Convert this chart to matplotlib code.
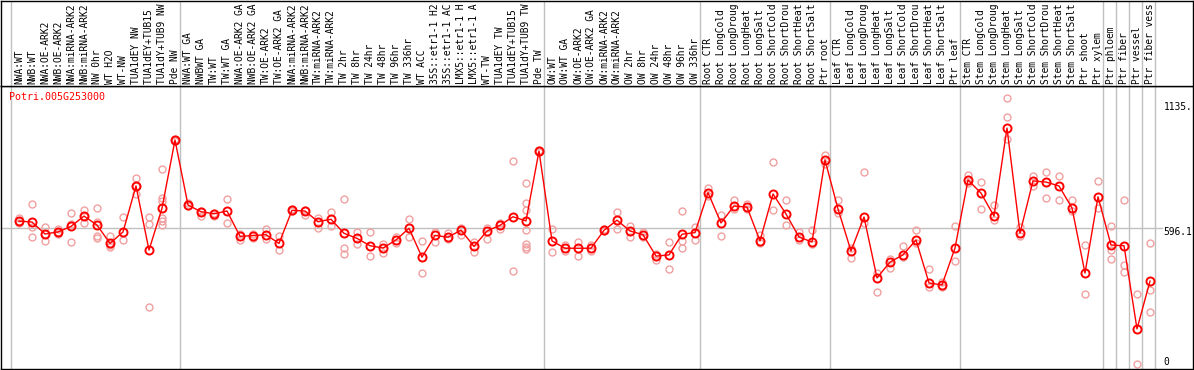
import matplotlib
matplotlib.use("Agg")
import matplotlib.pyplot as plt
from matplotlib.transforms import blended_transform_factory

# ---------------- data ----------------
labels = [
    "NWA:WT", "NWB:WT", "NWA:OE-ARK2", "NWB:OE-ARK2", "NWA:miRNA-ARK2", "NWB:miRNA-ARK2",
    "NW 0hr", "WT H2O", "WT-NW", "TUA1dEY NW", "TUA1dEY+TUB15 NW", "TUA1dY+TUB9 NW", "Pde NW",
    "NWA:WT GA", "NWBWT GA", "TW:WT", "TW:WT GA", "NWA:OE-ARK2 GA", "NWB:OE-ARK2 GA",
    "TW:OE-ARK2", "TW:OE-ARK2 GA", "NWA:miRNA-ARK2", "NWB:miRNA-ARK2", "TW:miRNA-ARK2",
    "TW:miRNA-ARK2", "TW 2hr", "TW 8hr", "TW 24hr", "TW 48hr", "TW 96hr", "TW 336hr", "WT ACC",
    "35S::etr1-1 H2O", "35S::etr1-1 ACC", "LMX5::etr1-1 H2O", "LMX5::etr1-1 ACC", "WT-TW",
    "TUA1dEY TW", "TUA1dEY+TUB15 TW", "TUA1dY+TUB9 TW", "Pde TW",
    "OW:WT", "OW:WT GA", "OW:OE-ARK2", "OW:OE-ARK2 GA", "OW:miRNA-ARK2", "OW:miRNA-ARK2",
    "OW 2hr", "OW 8hr", "OW 24hr", "OW 48hr", "OW 96hr", "OW 336hr",
    "Root CTR", "Root LongCold", "Root LongDrought", "Root LongHeat", "Root LongSalt",
    "Root ShortCold", "Root ShortDrought", "Root ShortHeat", "Root ShortSalt", "Ptr root",
    "Leaf CTR", "Leaf LongCold", "Leaf LongDrought", "Leaf LongHeat", "Leaf LongSalt",
    "Leaf ShortCold", "Leaf ShortDrought", "Leaf ShortHeat", "Leaf ShortSalt", "Ptr leaf",
    "Stem CTR", "Stem LongCold", "Stem LongDrought", "Stem LongHeat", "Stem LongSalt",
    "Stem ShortCold", "Stem ShortDrought", "Stem ShortHeat", "Stem ShortSalt", "Ptr shoot",
    "Ptr xylem", "Ptr phloem", "Ptr fiber", "Ptr vessel", "Ptr fiber vessel",
]

means = [
    626, 622, 570, 579, 603, 648, 609, 529, 579, 779, 500, 682, 979,
    696, 667, 658, 670, 560, 563, 567, 529, 673, 670, 624, 634, 573, 551, 519, 509, 544,
    595, 469, 564, 556, 587, 516, 583, 608, 645, 627, 931,
    540, 508, 508, 508, 586, 630, 583, 567, 474, 479, 569, 576,
    750, 618, 692, 687, 540, 744, 657, 557, 535, 892,
    679, 496, 644, 379, 448, 479, 544, 357, 348, 509,
    805, 748, 648, 1031, 574, 801, 796, 779, 683, 400, 732, 522, 519, 157, 365,
]

replicates = [
    [641, 626, 618], [700, 602, 556], [600, 570, 538], [592, 579, 570], [660, 613, 534],
    [674, 648, 616], [682, 621, 560, 554], [563, 520, 512], [643, 544], [814, 779, 743],
    [643, 612, 251], [851, 728, 712, 638, 625, 609], [985, 975],
    [705, 690], [672, 648], [662, 647], [722, 618], [570, 544], [570, 553], [592, 550],
    [561, 502], [677, 668], [676, 653], [641, 595], [667, 603], [722, 508, 484], [580, 528],
    [580, 473], [525, 486], [557, 530], [634, 556], [538, 399], [580, 537], [573, 547],
    [598, 565], [535, 493], [596, 550], [620, 592], [886, 409],
    [790, 705, 676, 586, 525, 515, 503], [935, 925],
    [590, 490], [522, 496], [537, 476], [522, 496], [590, 582], [666, 590], [603, 556],
    [580, 556], [483, 455], [534, 418], [670, 538, 508], [601, 544],
    [770, 735], [653, 562], [718, 680], [700, 680], [566, 530], [883, 674], [718, 609],
    [579, 545], [587, 525], [914, 875],
    [718, 660], [466, 510], [840, 620], [318, 400], [422, 460], [518, 470], [588, 530],
    [418, 340], [360, 340], [605, 453],
    [827, 790], [796, 679], [696, 630], [1162, 1079, 983], [600, 560], [822, 780],
    [840, 727], [822, 718], [718, 670], [522, 309], [800, 682], [605, 500, 460],
    [718, 435, 405], [307, 3], [529, 325, 231],
]

group_ends = [-1, 12, 40, 52, 62, 72, 83, 84, 85, 86, 87]
gene = "Potri.005G253000"
ref_value = 596.1
top_value = 1135.0
MAX_CHARS = 14   # the header band only has room for this many characters

# ---------------- layout (pixel-based) ----------------
W, H = 1194, 370
fig = plt.figure(figsize=(W / 100, H / 100), dpi=100)
FONT = "DejaVu Sans Mono"

x0_px, dx_px = 19.0, 13.0          # pixel position of column 0 and spacing
y0_px, upp = 365.0, 4.351          # pixel row of value 0, value units per pixel
plot_top_px, plot_bot_px = 86.0, 369.0
left_px, right_px = 1.0, 1193.0


def px2x(px):
    return (px - x0_px) / dx_px


ax = fig.add_axes([left_px / W, (H - plot_bot_px) / H,
                   (right_px - left_px) / W, (plot_bot_px - plot_top_px) / H])
ax.set_xlim(px2x(left_px), px2x(right_px))
ax.set_ylim((y0_px - plot_bot_px) * upp, (y0_px - plot_top_px) * upp)
ax.set_xticks([])
ax.set_yticks([])
for s in ax.spines.values():
    s.set_color("black")
    s.set_linewidth(1.0)

lab = fig.add_axes([left_px / W, (H - plot_top_px) / H,
                    (right_px - left_px) / W, (plot_top_px - 0.5) / H])
lab.set_xlim(ax.get_xlim())
lab.set_ylim(0, 1)
lab.set_xticks([])
lab.set_yticks([])
for s in lab.spines.values():
    s.set_color("black")
    s.set_linewidth(1.0)

# vertical group separators
for g in group_ends:
    for a in (ax, lab):
        a.axvline(g + 0.41, color="#c0c0c0", lw=1.0, zorder=0)

# horizontal reference line
ax.plot([ax.get_xlim()[0], px2x(1162)], [ref_value, ref_value],
        color="#c0c0c0", lw=1.0, zorder=0, clip_on=False)

xs = list(range(len(labels)))

# replicate points
for i, reps in enumerate(replicates):
    ax.plot([i] * len(reps), reps, linestyle="none", marker="o", markersize=5.0,
            markerfacecolor="none", markeredgecolor="#f0a0a0", markeredgewidth=1.0, zorder=2)

# mean line and points
ax.plot(xs, means, color="#ff0000", lw=1.0, zorder=3)
ax.plot(xs, means, linestyle="none", marker="o", markersize=5.8,
        markerfacecolor="none", markeredgecolor="#ff0000", markeredgewidth=1.4, zorder=4)

# sample labels (rotated, anchored just above the separator line)
trans = blended_transform_factory(lab.transData, fig.transFigure)
for i, t in enumerate(labels):
    fig.text(i, (H - 84.5) / H, t[:MAX_CHARS], transform=trans, rotation=90, ha="center",
             va="bottom", fontsize=6.9, family=FONT, color="black")

# gene name
fig.text(9.5 / W, (H - 97) / H, gene, color="#ff0000", fontsize=7.2, family=FONT,
         ha="left", va="center")

# right-hand value labels
for txt, ypx in ((f"{top_value:.0f}.", 107.5), (f"{ref_value:.1f}", 232), ("0", 362)):
    fig.text(1163.5 / W, (H - ypx) / H, txt, color="black", fontsize=6.9,
             family=FONT, ha="left", va="center")

fig.savefig("out.png", dpi=100)
